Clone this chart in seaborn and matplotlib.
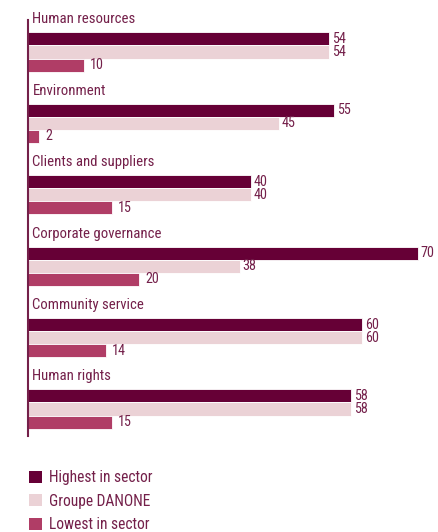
import matplotlib
matplotlib.use("Agg")
import matplotlib.pyplot as plt
from matplotlib.patches import Patch
import seaborn as sns
import pandas as pd

categories = ["Human resources", "Environment", "Clients and suppliers",
              "Corporate governance", "Community service", "Human rights"]
series = ["Highest in sector", "Groupe DANONE", "Lowest in sector"]
highest = [54, 55, 40, 70, 60, 58]
danone = [54, 45, 40, 38, 60, 58]
lowest = [10, 2, 15, 20, 14, 15]

colors = ["#660036", "#EBD2D6", "#B03D66"]
text_color = "#74204A"

sns.set_style("white")
plt.rcParams["font.family"] = ["Roboto Condensed", "DejaVu Sans"]

rows = []
for name, vals in zip(series, [highest, danone, lowest]):
    for cat, v in zip(categories, vals):
        rows.append({"category": cat, "series": name, "value": v})
df = pd.DataFrame(rows)

W, H = 439, 532
fig = plt.figure(figsize=(W / 100, H / 100), dpi=100)
left_px, right_px, top_px, bottom_px = 28, 439, 20, 436
px_per_unit = 5.57
ax = fig.add_axes([left_px / W, 1 - bottom_px / H,
                   (right_px - left_px) / W, (bottom_px - top_px) / H])

sns.barplot(data=df, y="category", x="value", hue="series",
            order=categories, hue_order=series, palette=colors,
            orient="h", width=0.55, saturation=1, legend=False, ax=ax,
            errorbar=None, edgecolor="white", linewidth=0.6)

ax.set_xlim(0, (right_px - left_px) / px_per_unit)
ax.set_ylim(5 + (bottom_px - 409) / 71.4, -(52 - top_px) / 71.4)

for container, pad in zip(ax.containers, [2.0, 2.0, 4.5]):
    ax.bar_label(container, fmt="%d", padding=pad, color=text_color,
                 fontsize=10.2)

for i, cat in enumerate(categories):
    ax.text(4.5 / px_per_unit, i - 0.40, cat, color=text_color, fontsize=10.6,
            va="baseline", ha="left", clip_on=False)

for s in ["top", "right", "bottom"]:
    ax.spines[s].set_visible(False)
ax.spines["left"].set_color(text_color)
ax.spines["left"].set_linewidth(1.5)
ax.set_xticks([])
ax.set_yticks([])
ax.set_xlabel("")
ax.set_ylabel("")

handles = [Patch(facecolor=c, edgecolor="none", label=s)
           for c, s in zip(colors, series)]
leg = fig.legend(handles=handles, loc="upper left",
                 bbox_to_anchor=(23 / W, 1 - 464 / H), frameon=False,
                 fontsize=11.2, handlelength=0.8, handleheight=0.8,
                 handletextpad=0.5, labelspacing=0.55, borderaxespad=0)
for t in leg.get_texts():
    t.set_color(text_color)

fig.savefig("out.png", dpi=100)
